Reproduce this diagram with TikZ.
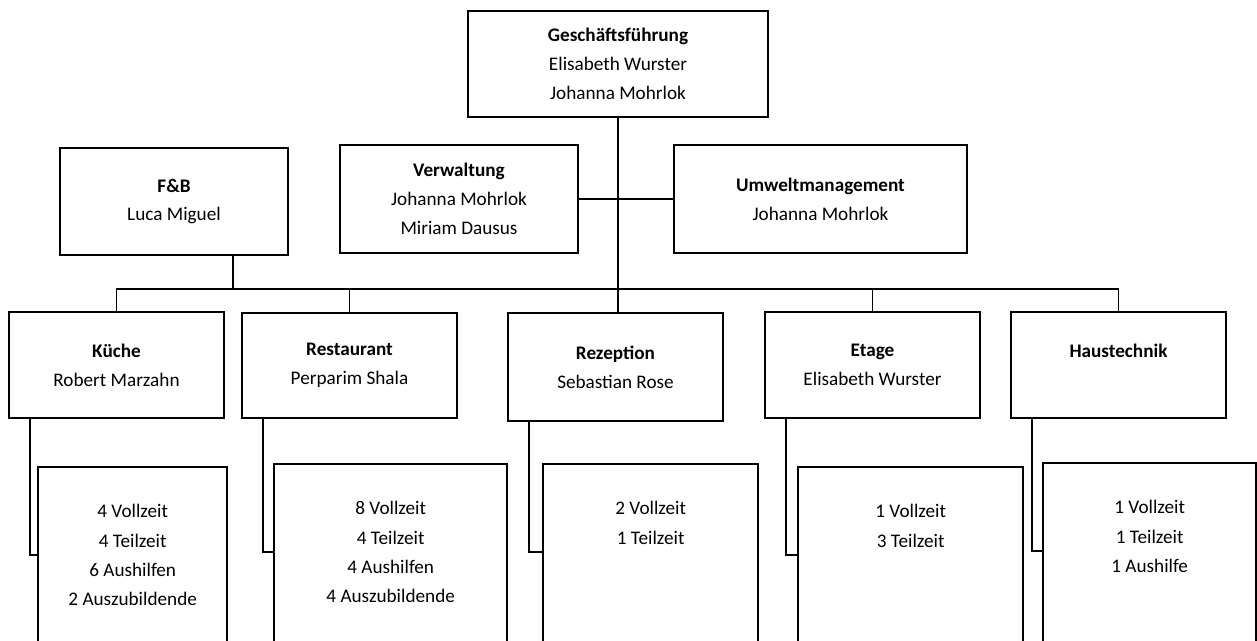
\documentclass[tikz,border=0pt]{standalone}
\usepackage{fontspec}
\setmainfont{Carlito}

\tikzset{every picture/.style={line width=0.75pt}}
\tikzset{
  orgbox/.style={draw, line width=1.8pt, align=center, inner sep=0pt,
    font=\fontsize{14.4}{21.6}\selectfont},
  staffbox/.style={draw, line width=1.8pt, anchor=north west, inner sep=0pt,
    minimum height=150pt},
  stafftext/.style={anchor=north, align=center, inner sep=0pt,
    font=\fontsize{14.4}{22}\selectfont},
  link/.style={line width=1.4pt},
  trunk/.style={line width=2.2pt}
}

\begin{document}
\begin{tikzpicture}[x=0.75pt,y=0.75pt,yscale=-1,xscale=1]
\useasboundingbox (0,0) rectangle (1257,640);
\clip (0,0) rectangle (1257,640);

%Shape: Rectangle (top)
\node [orgbox, minimum width=225pt, minimum height=79.5pt] (gf) at (618,64) {\textbf{Geschäftsführung}\\Elisabeth Wurster\\Johanna Mohrlok};

%Shape: Rectangle (second row)
\node [orgbox, minimum width=171pt, minimum height=80.25pt] (fb) at (174,201.5) {\textbf{F\&B}\\Luca Miguel};
\node [orgbox, minimum width=178.5pt, minimum height=81pt] (verw) at (459,199) {\textbf{Verwaltung}\\Johanna Mohrlok\\Miriam Dausus};
\node [orgbox, minimum width=219.75pt, minimum height=81pt] (umwelt) at (820.5,199) {\textbf{Umweltmanagement}\\Johanna Mohrlok};

%Shape: Rectangle (departments)
\node [orgbox, minimum width=161.25pt, minimum height=79.5pt] (kueche) at (116.5,365) {\textbf{Küche}\\Robert Marzahn};
\node [orgbox, minimum width=161.25pt, minimum height=78.75pt] (rest) at (349.5,365.5) {\textbf{Restaurant}\\Perparim Shala};
\node [orgbox, minimum width=161.25pt, minimum height=81pt] (rez) at (615.5,367) {\textbf{Rezeption}\\Sebastian Rose};
\node [orgbox, minimum width=161.25pt, minimum height=79.5pt] (etage) at (872.5,365) {\textbf{Etage}\\Elisabeth Wurster};
\node [orgbox, minimum width=161.25pt, minimum height=79.5pt] (haus) at (1118.5,365) {\textbf{Haustechnik}\\\mbox{}};

%Shape: Rectangle (staff)
\node [staffbox, minimum width=141.75pt] (kStaff) at (37,466) {};
\node [staffbox, minimum width=174.75pt] (rStaff) at (273,463) {};
\node [staffbox, minimum width=161.25pt] (zStaff) at (542,463) {};
\node [staffbox, minimum width=168.75pt] (eStaff) at (797,466) {};
\node [staffbox, minimum width=159.75pt] (hStaff) at (1042,462) {};

% Text Node (yshift runs downwards here, yscale=-1)
\node [stafftext] (kText) at ([yshift=28.4pt]kStaff.north) {4 Vollzeit\\4 Teilzeit\\6 Aushilfen\\2 Auszubildende};
% Text Node
\node [stafftext] (rText) at ([yshift=28.4pt]rStaff.north) {8 Vollzeit\\4 Teilzeit\\4 Aushilfen\\4 Auszubildende};
% Text Node
\node [stafftext] (zText) at ([yshift=28.4pt]zStaff.north) {2 Vollzeit\\1 Teilzeit};
% Text Node
\node [stafftext] (eText) at ([yshift=28.4pt]eStaff.north) {1 Vollzeit\\3 Teilzeit};
% Text Node
\node [stafftext] (hText) at ([yshift=28.4pt]hStaff.north) {1 Vollzeit\\1 Teilzeit\\1 Aushilfe};

%Straight Lines
\coordinate (bus) at (617,289);
\coordinate (fbfoot) at ([xshift=44.25pt]fb.south);
\draw [trunk] (gf.south) -- (gf.south |- rez.north);
\draw [link] (verw.east) -- (umwelt.west);
\draw [link] (kueche.north) |- (bus) -| (haus.north);
\draw [link] (rest.north) -- (rest.north |- bus);
\draw [link] (etage.north) -- (etage.north |- bus);
\draw [link] (fbfoot) -- (fbfoot |- bus);

%Straight Lines (to staff)
\foreach \dep/\staff in {kueche/kStaff, rest/rStaff, rez/zStaff, etage/eStaff, haus/hStaff}
  \draw [link] ([xshift=16.5pt]\dep.south west) |- ([yshift=67pt]\staff.north west);

\end{tikzpicture}
\end{document}
